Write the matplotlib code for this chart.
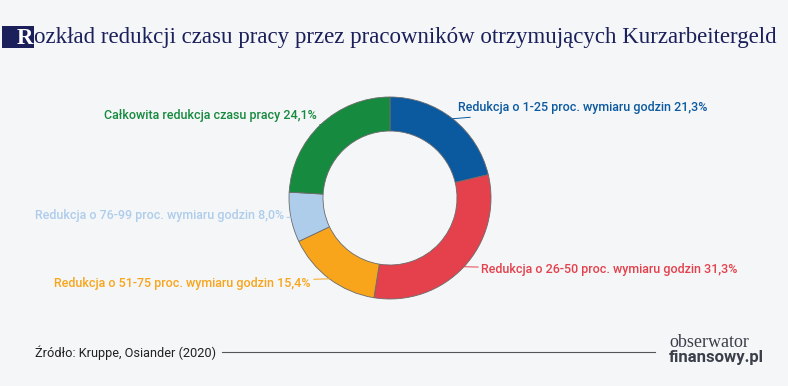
import numpy as np
import matplotlib
matplotlib.use("Agg")
import matplotlib.pyplot as plt
from matplotlib.patches import Rectangle

# dane (proc.), zgodnie z ruchem wskazówek zegara od góry
labels = [
    "Redukcja o 1-25 proc. wymiaru godzin 21,3%",
    "Redukcja o 26-50 proc. wymiaru godzin 31,3%",
    "Redukcja o 51-75 proc. wymiaru godzin 15,4%",
    "Redukcja o 76-99 proc. wymiaru godzin 8,0%",
    "Całkowita redukcja czasu pracy 24,1%",
]
shares = [21.3, 31.3, 15.4, 8.0, 24.1]
colors = ["#0b5aa0", "#e4414c", "#f8a51b", "#aecdeb", "#168a3e"]
# pozycje etykiet w pikselach (x, y od góry) i wyrównanie
label_pos = [(458, 108, "left"), (481, 270, "left"), (311, 283, "right"),
             (284, 216, "right"), (317, 116, "right")]

W, H = 788, 386
BG = "#f5f6f8"
CX, CY, R = 390, 198, 101

fig = plt.figure(figsize=(W / 100, H / 100), dpi=100, facecolor=BG)
ax = fig.add_axes([0, 0, 1, 1])
ax.set_facecolor(BG)

wedges, _ = ax.pie(shares, colors=colors, startangle=90, counterclock=False,
                   center=(CX, H - CY), radius=R,
                   wedgeprops=dict(width=34, edgecolor="#6b6b6b", linewidth=0.6))
ax.set_xlim(0, W)
ax.set_ylim(0, H)
ax.set_aspect("equal")
ax.axis("off")

lab_font = "Roboto"
for w, txt, col, (lx, ly, ha) in zip(wedges, labels, colors, label_pos):
    ang = np.deg2rad((w.theta1 + w.theta2) / 2)
    px = CX + R * np.cos(ang)
    py = H - CY + R * np.sin(ang)
    ax.annotate(txt, xy=(px, py), xytext=(lx, H - ly), ha=ha, va="center",
                color=col, fontsize=9, family=lab_font, weight="medium",
                arrowprops=dict(arrowstyle="-", color=col, lw=0.7,
                                shrinkA=0, shrinkB=0))

# tytuł
NAVY = "#1b1f5a"
ax.add_patch(Rectangle((2, H - 48), 32, 22, color=NAVY, lw=0))
ax.text(25, H - 38, "R", color="white", fontsize=16.5, family="Liberation Serif",
        ha="center", va="center", weight="bold")
ax.text(34, H - 38, "ozkład redukcji czasu pracy przez pracowników otrzymujących Kurzarbeitergeld",
        color=NAVY, fontsize=16.5, family="Liberation Serif", ha="left", va="center")

# stopka
ax.text(35, H - 353, "Źródło: Kruppe, Osiander (2020)", color="#222222",
        fontsize=9.2, family=lab_font, ha="left", va="center")
ax.plot([222, 655], [H - 352, H - 352], color="#555555", lw=0.8)
ax.text(669, H - 347, "obserwator", color="#3a3f4a", fontsize=13,
        family="Liberation Serif", ha="left", va="baseline")
ax.text(669, H - 362, "finansowy.pl", color="#3a3f4a", fontsize=12,
        family="Roboto", weight="bold", ha="left", va="baseline")

fig.savefig("out.png", dpi=100, facecolor=BG)
